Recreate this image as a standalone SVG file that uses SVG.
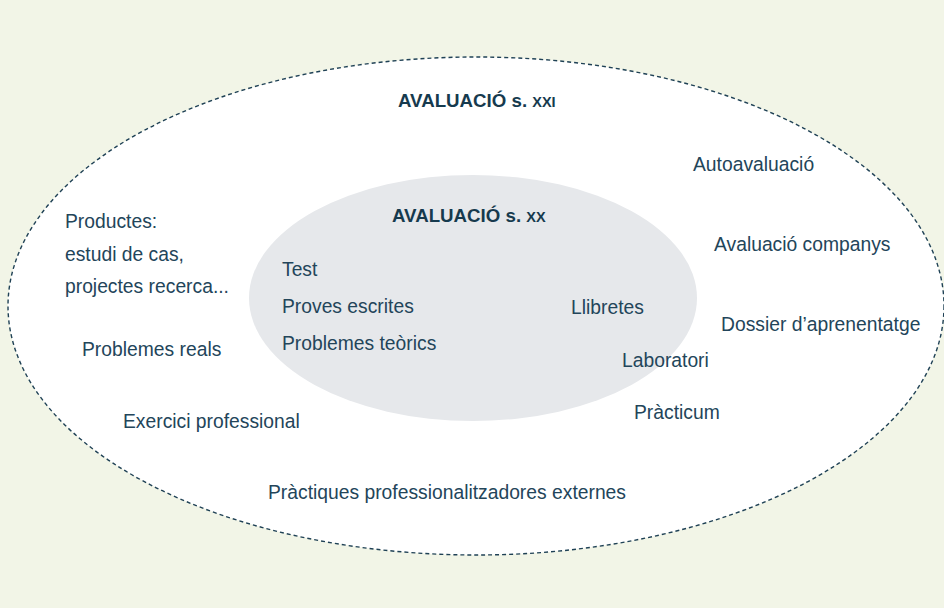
<svg xmlns="http://www.w3.org/2000/svg" width="944" height="608" viewBox="0 0 944 608">
<style>
.t{font-family:"Liberation Sans",Arial,sans-serif;font-size:19.3px;fill:#23455a}
.h{font-family:"Liberation Sans",Arial,sans-serif;font-size:18.7px;font-weight:bold;fill:#163a4e}
.sc{font-size:14.5px}
</style>
<rect x="0" y="0" width="944" height="608" fill="#f2f5e7"/>
<g id="outer">
<ellipse cx="476" cy="306" rx="468" ry="249" fill="#ffffff" stroke="#1f4155" stroke-width="1.4" stroke-dasharray="4 3"/>
<text class="h" x="398" y="107">AVALUACIÓ s. <tspan class="sc">XXI</tspan></text>
</g>
<g id="inner">
<ellipse cx="473" cy="298" rx="224" ry="123" fill="#e6e8eb"/>
<text class="h" x="392" y="222">AVALUACIÓ s. <tspan class="sc">XX</tspan></text>
</g>
<g id="connectors"></g>
<g id="n-test"><text class="t" x="282" y="276">Test</text></g>
<g id="n-proves"><text class="t" x="282" y="313">Proves escrites</text></g>
<g id="n-teorics"><text class="t" x="282" y="350">Problemes teòrics</text></g>
<g id="n-llibretes"><text class="t" x="571" y="314">Llibretes</text></g>
<g id="n-laboratori"><text class="t" x="622" y="367">Laboratori</text></g>
<g id="n-practicum"><text class="t" x="634" y="419">Pràcticum</text></g>
<g id="n-auto"><text class="t" x="693" y="171">Autoavaluació</text></g>
<g id="n-companys"><text class="t" x="714" y="251">Avaluació companys</text></g>
<g id="n-dossier"><text class="t" x="721" y="331">Dossier d’aprenentatge</text></g>
<g id="n-productes"><text class="t" x="65" y="228">Productes:</text><text class="t" x="65" y="261">estudi de cas,</text><text class="t" x="65" y="293">projectes recerca...</text></g>
<g id="n-reals"><text class="t" x="82" y="356">Problemes reals</text></g>
<g id="n-exercici"><text class="t" x="123" y="428">Exercici professional</text></g>
<g id="n-externes"><text class="t" x="268" y="499">Pràctiques professionalitzadores externes</text></g>
</svg>
